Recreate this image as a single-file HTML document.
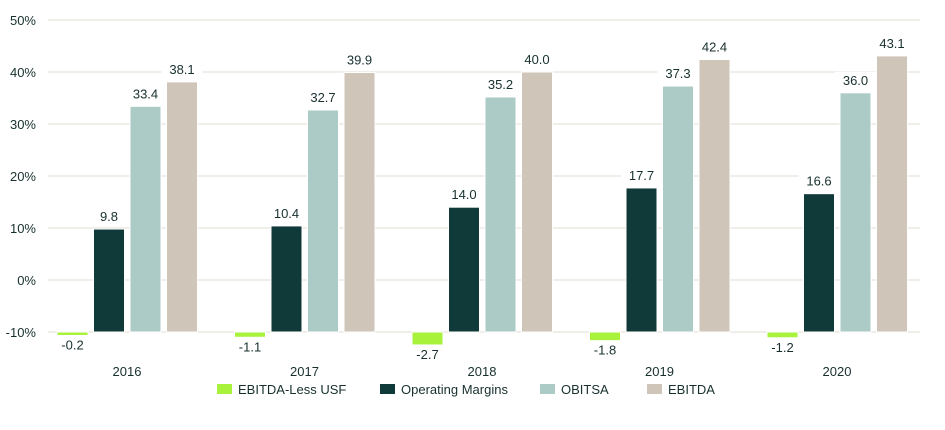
<!DOCTYPE html>
<html><head><meta charset="utf-8"><style>
body{margin:0;background:#fff;font-family:"Liberation Sans",sans-serif}
svg text{font-family:"Liberation Sans",sans-serif;fill:#17302e}
</style></head><body>
<svg width="945" height="425" id="c"></svg>
<script>
const categories=["2016","2017","2018","2019","2020"];
const seriesNames=["EBITDA-Less USF","Operating Margins","OBITSA","EBITDA"];
const lessUsf=[-0.2,-1.1,-2.7,-1.8,-1.2];
const opMargins=[9.8,10.4,14.0,17.7,16.6];
const obitsa=[33.4,32.7,35.2,37.3,36.0];
const ebitda=[38.1,39.9,40.0,42.4,43.1];
const ticks=[-10,0,10,20,30,40,50];
const colors=["#a8f23c","#10393a","#adcbc6","#cfc6b9"];
const NS="http://www.w3.org/2000/svg";
const svg=document.getElementById('c');
const base=332,k=5.2;
function y(t){return base-(t+10)*k;}
function xc(i){return 127+i*177.5;}
function mk(tag,a,p){const e=document.createElementNS(NS,tag);for(const q in a)e.setAttribute(q,a[q]);(p||svg).appendChild(e);return e;}
ticks.forEach(t=>{
 const l=mk('line',{x1:48,x2:920,y1:y(t),y2:y(t),stroke:'#e8e3dc','stroke-width':1.3});
 
 
 const tx=mk('text',{x:36,y:y(t)+5,'text-anchor':'end','font-size':13});
 tx.textContent=t+'%';
 
 
});
const series=[lessUsf,opMargins,obitsa,ebitda];
const offs=[-70,-33.5,3,39.5],bw=31;
categories.forEach((c,i)=>{
 series.forEach((s,j)=>{
  const v=s[i];const x=xc(i)+offs[j];
  let top,h,ly;
  if(v<0){top=base;h=Math.max(3.5,-v*4.8);ly=top+h+14;}
  else{top=y(v);h=base-top;ly=top-8;}
  const r=mk('rect',{x:x,y:top,width:bw,height:h,fill:colors[j],stroke:'#fff','stroke-width':1});
  
  
  const bg=mk('rect',{x:x-5,y:ly-13,width:bw+10,height:17,fill:'#fff'});
  
  
  const t=mk('text',{x:x+bw/2,y:ly,'text-anchor':'middle','font-size':13});
  t.textContent=v.toFixed(1);
  
  
 });
 const ct=mk('text',{x:xc(i),y:376,'text-anchor':'middle','font-size':13});
 ct.textContent=c;
 
 
});
const lx=[217,380,540,647];
seriesNames.forEach((n,j)=>{
 const g=mk('g',{});
 
 
 mk('rect',{x:lx[j],y:384,width:15,height:10,fill:colors[j]},g);
 const t=mk('text',{x:lx[j]+21,y:394,'font-size':13},g);
 t.textContent=n;
});
</script>
</body></html>
